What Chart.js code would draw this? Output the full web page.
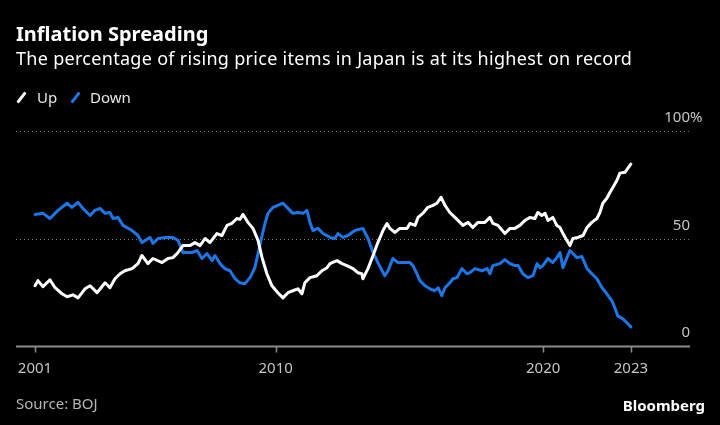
<!DOCTYPE html>
<html>
<head>
<meta charset="utf-8">
<script src="https://cdn.jsdelivr.net/npm/chart.js@4.4.0/dist/chart.umd.min.js"></script>
<style>
  html, body { margin: 0; padding: 0; background: #000; }
  #wrap { position: relative; width: 720px; height: 425px; overflow: hidden; background: #000; font-family: 'Noto Sans', sans-serif; }
  #chart-box { position: absolute; left: 0; top: 0; width: 720px; height: 425px; }
  .txt { position: absolute; white-space: nowrap; }
  .title { left: 16px; top: 22px; font-size: 20px; line-height: 24px; font-weight: 700; color: #fff; }
  .subtitle { left: 16px; top: 47px; font-size: 18px; line-height: 22px; letter-spacing: 0.3px; color: #fff; }
  .leg { top: 88px; font-size: 15px; line-height: 18px; color: #e6e6e6; }
  .swatch { position: absolute; top: 91px; width: 3px; height: 13px; border-radius: 1px; transform: rotate(38deg); }
  .source { left: 16px; top: 394px; font-size: 15px; line-height: 18px; color: #b4b4b4; }
  .logo { right: 15px; top: 396px; font-size: 15px; line-height: 18px; font-weight: 700; color: #fff; }
</style>
</head>
<body>
<div id="wrap">
  <div id="chart-box"><canvas id="chart"></canvas></div>
  <div class="txt title">Inflation Spreading</div>
  <div class="txt subtitle">The percentage of rising price items in Japan is at its highest on record</div>
  <div class="swatch" style="left:19.5px;background:#fff"></div>
  <div class="txt leg" style="left:37px">Up</div>
  <div class="swatch" style="left:73.5px;background:#1d76e8"></div>
  <div class="txt leg" style="left:90px">Down</div>
  <div class="txt source">Source: BOJ</div>
  <div class="txt logo">Bloomberg</div>
</div>
<script>
// share of items with rising / falling prices, %
const upYears = [2001.00, 2001.11, 2001.30, 2001.56, 2001.75, 2002.01, 2002.20, 2002.42, 2002.61, 2002.87,
    2003.06, 2003.32, 2003.62, 2003.80, 2003.99, 2004.18, 2004.36, 2004.63, 2004.85, 2005.00,
    2005.22, 2005.41, 2005.75, 2005.97, 2006.16, 2006.35, 2006.53, 2006.79, 2006.98, 2007.17,
    2007.36, 2007.54, 2007.80, 2007.99, 2008.18, 2008.36, 2008.55, 2008.66, 2008.78, 2008.96,
    2009.15, 2009.34, 2009.49, 2009.67, 2009.86, 2010.08, 2010.27, 2010.46, 2010.64, 2010.83,
    2010.98, 2011.09, 2011.28, 2011.54, 2011.73, 2011.92, 2012.03, 2012.29, 2012.48, 2012.66,
    2012.89, 2013.07, 2013.22, 2013.26, 2013.45, 2013.64, 2013.82, 2014.01, 2014.16, 2014.27,
    2014.46, 2014.64, 2014.91, 2015.02, 2015.21, 2015.32, 2015.50, 2015.69, 2015.88, 2016.03,
    2016.18, 2016.33, 2016.51, 2016.70, 2016.89, 2017.00, 2017.19, 2017.37, 2017.56, 2017.82,
    2018.01, 2018.12, 2018.31, 2018.57, 2018.76, 2018.94, 2019.13, 2019.32, 2019.50, 2019.69,
    2019.80, 2019.95, 2020.07, 2020.18, 2020.36, 2020.51, 2020.63, 2020.74, 2020.89, 2021.00,
    2021.11, 2021.30, 2021.49, 2021.64, 2021.82, 2022.01, 2022.12, 2022.23, 2022.38, 2022.50,
    2022.61, 2022.76, 2022.87, 2023.06, 2023.17, 2023.28];
const upValues = [28.0, 30.4, 27.6, 30.8, 27.1, 24.3, 22.9, 23.8, 22.4, 26.6,
    28.0, 24.8, 29.4, 27.1, 31.3, 33.6, 35.0, 36.0, 38.3, 42.1,
    38.3, 40.7, 38.8, 40.7, 41.1, 43.5, 46.7, 46.7, 48.1, 46.7,
    50.0, 48.1, 52.3, 51.4, 56.1, 57.0, 59.3, 58.9, 61.2, 57.5,
    54.7, 49.1, 41.1, 33.6, 28.0, 24.8, 22.4, 24.8, 25.7, 26.6,
    24.3, 29.4, 31.8, 32.7, 35.0, 36.4, 38.3, 39.7, 38.3, 37.4,
    36.0, 34.1, 33.6, 31.3, 36.0, 42.1, 48.1, 53.7, 57.0, 54.7,
    52.8, 54.7, 54.7, 57.0, 56.1, 59.8, 61.7, 64.5, 65.4, 66.4,
    69.2, 65.4, 62.1, 59.8, 57.5, 56.1, 57.5, 55.1, 57.5, 57.5,
    59.8, 57.0, 56.1, 52.3, 54.7, 54.7, 56.1, 58.4, 59.8, 59.3,
    62.1, 60.7, 61.7, 58.4, 59.8, 56.1, 55.1, 52.3, 49.1, 46.7,
    50.0, 50.5, 51.4, 55.1, 57.5, 59.3, 62.1, 66.4, 68.7, 71.5,
    73.8, 77.1, 80.4, 80.8, 82.7, 84.6];

const downYears = [2001.00, 2001.30, 2001.56, 2001.86, 2002.20, 2002.38, 2002.61, 2002.79, 2003.06, 2003.24,
    2003.43, 2003.62, 2003.80, 2003.92, 2004.10, 2004.29, 2004.63, 2004.85, 2005.00, 2005.30,
    2005.41, 2005.60, 2005.86, 2006.16, 2006.35, 2006.53, 2006.87, 2007.06, 2007.24, 2007.43,
    2007.62, 2007.73, 2007.92, 2008.10, 2008.29, 2008.48, 2008.66, 2008.85, 2009.04, 2009.22,
    2009.34, 2009.49, 2009.60, 2009.71, 2009.90, 2010.08, 2010.27, 2010.46, 2010.64, 2010.83,
    2011.02, 2011.17, 2011.28, 2011.39, 2011.58, 2011.77, 2012.03, 2012.21, 2012.33, 2012.51,
    2012.70, 2012.96, 2013.26, 2013.45, 2013.64, 2013.82, 2014.08, 2014.20, 2014.38, 2014.57,
    2014.83, 2015.02, 2015.13, 2015.28, 2015.39, 2015.58, 2015.77, 2015.95, 2016.07, 2016.21,
    2016.33, 2016.51, 2016.63, 2016.78, 2016.96, 2017.15, 2017.26, 2017.45, 2017.71, 2017.90,
    2018.01, 2018.12, 2018.38, 2018.57, 2018.76, 2018.94, 2019.06, 2019.24, 2019.43, 2019.62,
    2019.77, 2019.88, 2019.99, 2020.18, 2020.36, 2020.51, 2020.63, 2020.74, 2020.89, 2021.00,
    2021.11, 2021.26, 2021.45, 2021.64, 2021.82, 2022.01, 2022.20, 2022.38, 2022.57, 2022.68,
    2022.79, 2022.98, 2023.14, 2023.28];
const downValues = [61.2, 61.7, 59.3, 63.1, 66.4, 64.5, 66.8, 64.0, 60.7, 63.1,
    64.0, 61.7, 62.1, 59.3, 59.8, 56.1, 53.7, 51.4, 48.1, 50.5,
    47.7, 50.0, 50.5, 50.5, 49.1, 43.5, 43.5, 44.4, 40.7, 43.0,
    39.7, 42.1, 38.3, 36.0, 35.0, 31.3, 29.4, 29.0, 31.8, 36.4,
    43.0, 51.4, 57.0, 61.7, 64.5, 65.4, 66.4, 64.0, 61.7, 62.1,
    61.7, 63.1, 57.5, 53.7, 54.7, 52.3, 50.5, 50.0, 52.3, 50.5,
    51.4, 53.7, 54.7, 50.0, 43.5, 38.8, 32.7, 35.0, 40.7, 38.8,
    38.8, 38.8, 37.4, 33.6, 30.4, 28.0, 26.6, 25.7, 27.1, 23.4,
    27.1, 29.4, 31.3, 31.8, 36.0, 33.6, 34.1, 36.0, 35.0, 36.0,
    33.6, 37.4, 38.3, 40.2, 38.3, 37.4, 37.4, 33.6, 31.8, 32.7,
    38.3, 36.4, 37.4, 40.7, 38.8, 41.1, 43.5, 36.4, 41.1, 44.4,
    43.0, 41.1, 41.6, 36.0, 33.6, 31.3, 27.1, 24.3, 21.0, 17.8,
    14.0, 12.6, 10.7, 8.9];

const xTickValues = [2001, 2010, 2020, 2023.28];
const xTickLabels = ['2001', '2010', '2020', '2023'];
const yTickValues = [0, 50, 100];
const yTickLabels = ['0', '50', '100'];

const UP_COLOR = '#ffffff';
const DOWN_COLOR = '#1d76e8';

// grid, axis line, ticks and labels in the Bloomberg style
const bbAxes = {
    id: 'bbAxes',
    beforeDatasetsDraw(chart) {
        const { ctx, chartArea: a, scales: { x, y } } = chart;
        ctx.save();
        ctx.strokeStyle = '#7c7c7c';
        ctx.lineWidth = 1;
        ctx.setLineDash([1, 3]);
        yTickValues.filter(v => v > 0).forEach(v => {
            const py = Math.round(y.getPixelForValue(v)) + 0.5;
            ctx.beginPath();
            ctx.moveTo(a.left, py);
            ctx.lineTo(a.right, py);
            ctx.stroke();
        });
        ctx.setLineDash([]);

        const base = Math.round(y.getPixelForValue(0)) + 0.5;
        ctx.strokeStyle = '#8c8c8c';
        ctx.lineWidth = 2;
        ctx.beginPath();
        ctx.moveTo(a.left, base);
        ctx.lineTo(a.right, base);
        ctx.stroke();

        ctx.lineWidth = 1.5;
        xTickValues.forEach(v => {
            const px = Math.round(x.getPixelForValue(v)) + 0.5;
            ctx.beginPath();
            ctx.moveTo(px, base);
            ctx.lineTo(px, base + 6);
            ctx.stroke();
        });
        ctx.restore();
    },
    afterDraw(chart) {
        const { ctx, chartArea: a, scales: { x, y } } = chart;
        ctx.save();
        ctx.font = '15px "Noto Sans"';
        ctx.fillStyle = '#c4c4c4';
        ctx.textBaseline = 'alphabetic';

        ctx.textAlign = 'center';
        xTickValues.forEach((v, i) => {
            ctx.fillText(xTickLabels[i], x.getPixelForValue(v), 373);
        });

        yTickValues.forEach((v, i) => {
            const py = y.getPixelForValue(v) - 9;
            ctx.textAlign = 'right';
            ctx.fillText(yTickLabels[i], a.right, py);
            if (i === yTickValues.length - 1) {
                ctx.textAlign = 'left';
                ctx.fillText('%', a.right, py);
            }
        });
        ctx.restore();
    }
};

new Chart(document.getElementById('chart'), {
    type: 'line',
    data: {
        datasets: [{
                label: 'Up',
                data: upYears.map((yr, i) => ({ x: yr, y: upValues[i] })),
                borderColor: UP_COLOR,
                borderWidth: 3,
                pointRadius: 0,
                tension: 0,
                borderJoinStyle: 'round',
                borderCapStyle: 'round'
            },
            {
                label: 'Down',
                data: downYears.map((yr, i) => ({ x: yr, y: downValues[i] })),
                borderColor: DOWN_COLOR,
                borderWidth: 3,
                pointRadius: 0,
                tension: 0,
                borderJoinStyle: 'round',
                borderCapStyle: 'round'
            }
        ]
    },
    options: {
        responsive: true,
        maintainAspectRatio: false,
        animation: false,
        layout: { padding: { left: 16, right: 30, top: 131, bottom: 79 } },
        plugins: {
            legend: { display: false },
            tooltip: { enabled: false }
        },
        scales: {
            x: { type: 'linear', min: 2000.29, max: 2025.49, display: false },
            y: { min: 0, max: 100, display: false }
        }
    },
    plugins: [bbAxes]
});
</script>
</body>
</html>
